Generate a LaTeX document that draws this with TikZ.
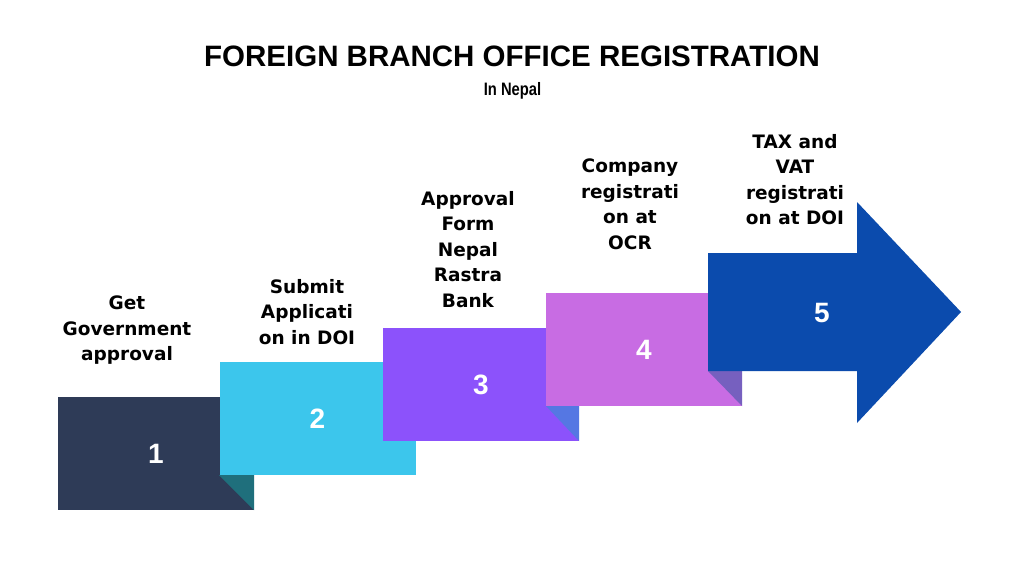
\documentclass[tikz,border=0pt]{standalone}
\usepackage{fontspec}
\setmainfont{DejaVu Sans}
\newfontfamily\titlefont{Liberation Sans}
\newfontfamily\subfont[FakeStretch=0.82]{Liberation Sans}
\definecolor{stepnavy}{HTML}{2E3B57}
\definecolor{foldteal}{HTML}{1F6F7C}
\definecolor{stepcyan}{HTML}{3CC6EC}
\definecolor{stepviolet}{HTML}{8C52FB}
\definecolor{foldblue}{HTML}{5577E3}
\definecolor{steporchid}{HTML}{C86CE3}
\definecolor{foldpurple}{HTML}{7660BF}
\definecolor{arrowblue}{HTML}{0B4BAD}
\tikzset{stepbox/.style={minimum width=196pt,minimum height=113pt,inner sep=0pt,
    text=white,font=\titlefont\bfseries\fontsize{28}{28}\selectfont}}

\begin{document}
\begin{tikzpicture}[x=1pt,y=-1pt,
            steplabel/.style={anchor=north,align=center,inner sep=0pt,
                font=\bfseries\fontsize{18.5}{25.5}\selectfont},
            fold/.style={draw=none}
            ]
            \fill[white] (0,0) rectangle (1024,576);
            \useasboundingbox (0,0) rectangle (1024,576);
            % title
            \node[anchor=base,font=\titlefont\bfseries\fontsize{29.5}{30}\selectfont] (title) at (512,66) {FOREIGN BRANCH OFFICE REGISTRATION};
            \node[anchor=base,font=\subfont\bfseries\fontsize{18}{18}\selectfont] (sub) at (512.5,95) {In Nepal};
            % steps
            \node[stepbox,fill=stepnavy] (box1) at (156,453.5) {1};
            \fill[foldteal] (box1.south east) -- ++(0,-35) -- ++(-35,0) -- cycle;
            \node[stepbox,fill=stepcyan] (box2) at (317.5,418.5) {2};
            \node[stepbox,fill=stepviolet] (box3) at (481,384.5) {3};
            \fill[foldblue] (box3.south east) -- ++(0,-35) -- ++(-33,0) -- cycle;
            \node[stepbox,fill=steporchid] (box4) at (644,349.5) {4};
            \fill[foldpurple] (box4.south east) -- ++(0,-35) -- ++(-34,0) -- cycle;
            \fill[arrowblue] (708,253) -- (857,253) -- (857,202) -- (961,312)
                -- (857,423) -- (857,371) -- (708,371) -- cycle;
            \node[text=white,font=\titlefont\bfseries\fontsize{28}{28}\selectfont] (num5) at (822,313) {5};
            % labels
            \node[steplabel] (lab1) at (127,296) {Get\\Government\\approval};
            \node[steplabel] (lab2) at (307,279) {Submit\\Applicati\\on in DOI};
            \node[steplabel] (lab3) at (468,191) {Approval\\Form\\Nepal\\Rastra\\Bank};
            \node[steplabel] (lab4) at (630,159) {Company\\registrati\\on at\\OCR};
            \node[steplabel] (lab5) at (795,134) {TAX and\\VAT\\registrati\\on at DOI};
        \end{tikzpicture}
\end{document}
